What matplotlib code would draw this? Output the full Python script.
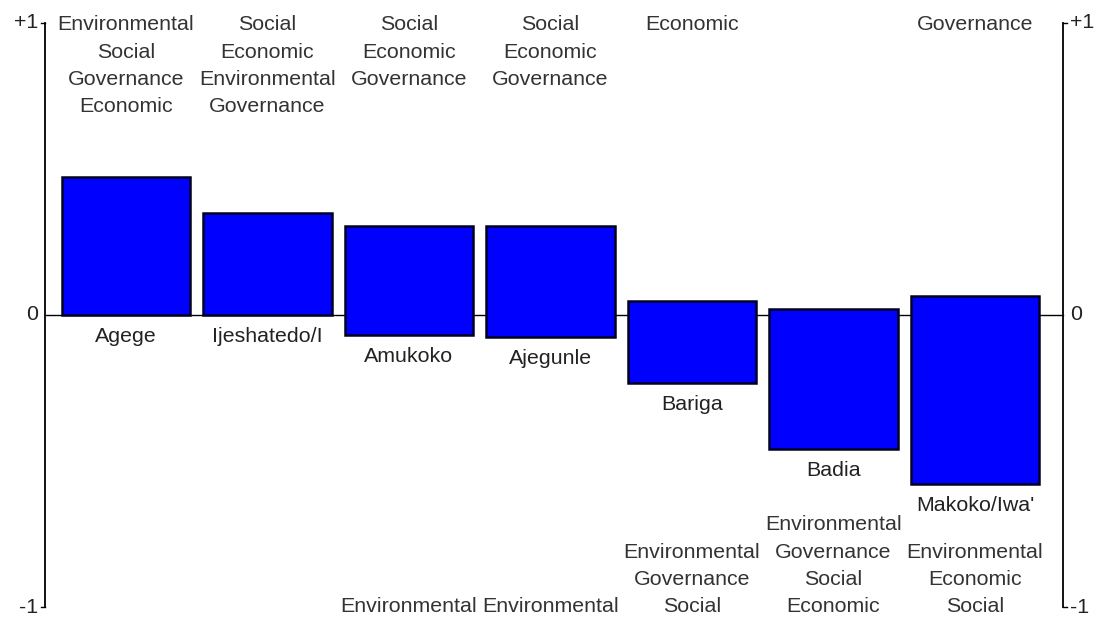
import numpy as np
import matplotlib.pyplot as plt

# PROMETHEE-style profile: phi+ on top, -phi- at the bottom of each bar
names = ["Agege", "Ijeshatedo/I", "Amukoko", "Ajegunle", "Bariga", "Badia", "Makoko/Iwa'"]
phi_plus = [0.472, 0.348, 0.303, 0.303, 0.048, 0.021, 0.066]
phi_minus = [0.0, 0.0, -0.069, -0.076, -0.231, -0.459, -0.579]

top_criteria = [
    ["Environmental", "Social", "Governance", "Economic"],
    ["Social", "Economic", "Environmental", "Governance"],
    ["Social", "Economic", "Governance"],
    ["Social", "Economic", "Governance"],
    ["Economic"],
    [],
    ["Governance"],
]
bottom_criteria = [
    [],
    [],
    ["Environmental"],
    ["Environmental"],
    ["Environmental", "Governance", "Social"],
    ["Environmental", "Governance", "Social", "Economic"],
    ["Environmental", "Economic", "Social"],
]

plt.rcParams['font.family'] = ['Liberation Sans', 'DejaVu Sans']
fs = 15.4

fig = plt.figure(figsize=(11, 6.18), dpi=100)
ax = fig.add_axes([0, 0, 1, 1])
ax.set_xlim(-0.890, 6.883)
ax.set_ylim(-1.036, 1.077)
ax.axis("off")

x = np.arange(len(names))
top = np.array(phi_plus)
bot = np.array(phi_minus)
xl, xr = -0.572, 6.622

# zero line and the two scales
ax.plot([xl, xr], [0, 0], color="black", lw=1, zorder=1)
for xa, side in [(xl, -1), (xr, 1)]:
    ax.plot([xa, xa], [-1, 1], color="black", lw=1.3, zorder=1)
    ax.plot([xa, xa + side * 0.03], [1, 1], color="black", lw=1)
    ax.plot([xa, xa + side * 0.03], [-1, -1], color="black", lw=1)
    ha = "right" if side < 0 else "left"
    off = side * 0.05
    ax.text(xa + off, 1.0, "+1", ha=ha, va="center", fontsize=fs, color="#222222")
    ax.text(xa + off, 0, "0", ha=ha, va="center", fontsize=fs, color="#222222")
    ax.text(xa + off, -1.0, "-1", ha=ha, va="center", fontsize=fs, color="#222222")

ax.bar(x, top - bot, bottom=bot, width=0.905, color="#0000ff",
       edgecolor="#000022", linewidth=1.8, zorder=2)

for i in range(len(names)):
    ax.annotate(names[i], (x[i], bot[i]), xytext=(0, -12), textcoords="offset pixels",
                ha="center", va="top", fontsize=fs, color="#222222")
    if top_criteria[i]:
        ax.text(x[i], 0.975, "\n".join(top_criteria[i]), transform=ax.get_xaxis_transform(),
                ha="center", va="top", fontsize=fs, linespacing=1.55, color="#333333")
    if bottom_criteria[i]:
        ax.text(x[i], 0.003, "\n".join(bottom_criteria[i]), transform=ax.get_xaxis_transform(),
                ha="center", va="bottom", fontsize=fs, linespacing=1.55, color="#333333")

fig.savefig("out.png", dpi=100, facecolor="white")
